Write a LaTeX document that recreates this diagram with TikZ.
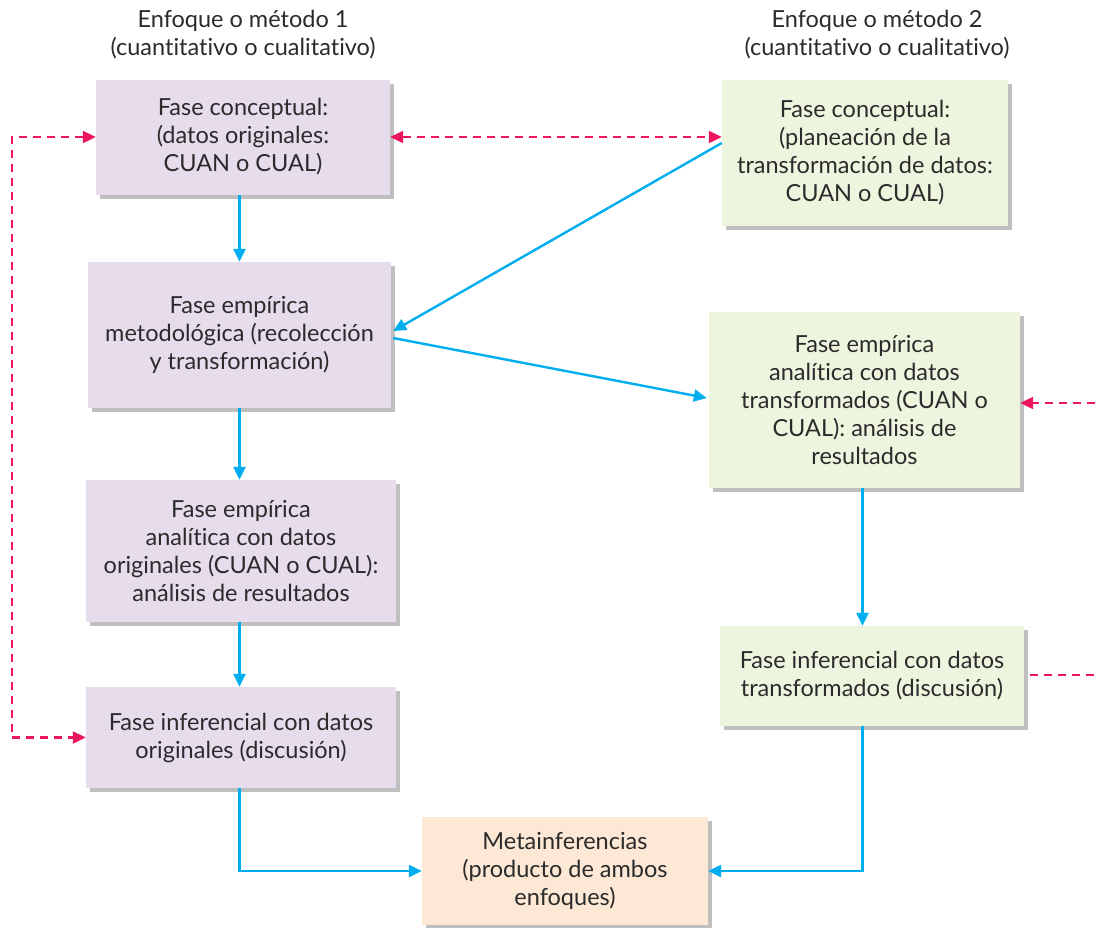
\documentclass[tikz,border=0pt]{standalone}
\usepackage{fontspec}
\setmainfont{Lato}[Ligatures=NoCommon]
\usepackage{xcolor}
\usetikzlibrary{arrows.meta, positioning, shadows, calc}

\definecolor{boxpurple}{HTML}{E6DCEC}
\definecolor{boxgreen}{HTML}{EEF5DF}
\definecolor{boxorange}{HTML}{FDE8D5}
\definecolor{flowblue}{HTML}{00AEEF}
\definecolor{linkred}{HTML}{EC1560}
\definecolor{textgray}{HTML}{2B2B2B}

\begin{document}
\begin{tikzpicture}[x=1pt, y=-1pt, >={Triangle[length=13pt,width=12pt]},
    every node/.style={text=textgray, font=\fontsize{23.5}{28}\selectfont}]
    \tikzset{
        block/.style={rectangle, inner sep=0pt, align=center,
            drop shadow={shadow xshift=4pt, shadow yshift=-4pt, opacity=0.25, fill=black}},
        methodA/.style={block, fill=boxpurple},
        methodB/.style={block, fill=boxgreen},
        final/.style={block, fill=boxorange},
        line/.style={draw=flowblue, line width=2.4pt, ->},
        link/.style={draw=linkred, line width=2.2pt, dash pattern=on 8pt off 6pt}
    }
    \useasboundingbox (0,0) rectangle (1095,927);

    % encabezados
    \node (headA) at (243,35) [align=center] {Enfoque o método 1\\(cuantitativo o cualitativo)};
    \node (headB) at (877,35) [align=center] {Enfoque o método 2\\(cuantitativo o cualitativo)};

    % metodo 1
    \node (concA) [methodA, minimum width=294, minimum height=115] at (243,137)
        {Fase conceptual:\\(datos originales:\\CUAN o CUAL)};
    \node (empA) [methodA, minimum width=303, minimum height=146] at (239.5,335)
        {Fase empírica\\metodológica (recolección\\y transformación)};
    \node (anaA) [methodA, minimum width=310, minimum height=142] at (241,551)
        {Fase empírica\\analítica con datos\\originales (CUAN o CUAL):\\análisis de resultados};
    \node (infA) [methodA, minimum width=310, minimum height=101] at (241,737.5)
        {Fase inferencial con datos\\originales (discusión)};

    % metodo 2
    \node (concB) [methodB, minimum width=286, minimum height=146] at (865,153)
        {Fase conceptual:\\(planeación de la\\transformación de datos:\\CUAN o CUAL)};
    \node (anaB) [methodB, minimum width=311, minimum height=176] at (864.5,400)
        {Fase empírica\\analítica con datos\\transformados (CUAN o\\CUAL): análisis de\\resultados};
    \node (infB) [methodB, minimum width=304, minimum height=100] at (872,676)
        {Fase inferencial con datos\\transformados (discusión)};

    \node (meta) [final, minimum width=286, minimum height=108] at (565,871)
        {Metainferencias\\(producto de ambos\\enfoques)};

    \coordinate (railL) at (12,0);
    \coordinate (edgeR1) at (1095,403);
    \coordinate (edgeR2) at (1095,675);

    % flujo
    \path [line] (concA.south -| empA.north) -- (empA.north);
    \path [line] (empA.south) -- (empA.south |- anaA.north);
    \path [line] (empA.south |- anaA.south) -- (empA.south |- infA.north);
    \path [line] (empA.south |- infA.south) |- (meta.west);
    \path [line] ($(concB.west)+(0,-10)$) -- ($(empA.east)+(2,-4)$);
    \path [line] ($(empA.east)+(2,3)$) -- ($(anaB.west)+(-2,-2)$);
    \path [line] ($(anaB.south)+(-2,0)$) -- ($(anaB.south |- infB.north)+(-2,0)$);
    \path [line] ($(anaB.south |- infB.south)+(-2,0)$) |- (meta.east);

    % enlaces
    \path [link, <->] (concA.west) -- (concA.west -| railL) -- (infA.west -| railL) -- (infA.west);
    \path [link, <->] (concA.east) -- (concA.east -| concB.west);
    \path [link, ->] (edgeR1) -- (edgeR1 -| anaB.east);
    \path [link, shorten <=6pt] (infB.east |- edgeR2) -- (edgeR2);
\end{tikzpicture}
\end{document}
